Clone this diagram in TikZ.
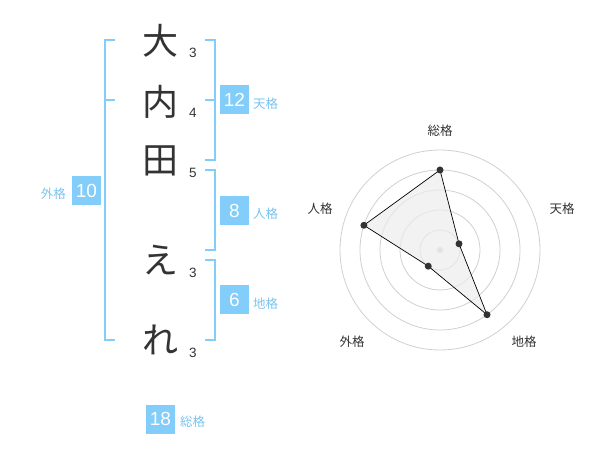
\documentclass[tikz,border=0pt]{standalone}
\usepackage{fontspec}
\setmainfont{Liberation Sans}
\newfontfamily\jp{Noto Sans CJK JP}
\usepackage{xcolor}
\usetikzlibrary{calc}

\definecolor{kakublue}{RGB}{130,205,249}
\definecolor{kakutext}{RGB}{120,196,240}
\definecolor{ink}{RGB}{51,51,51}
\definecolor{ring}{RGB}{208,208,208}

\begin{document}
\begin{tikzpicture}[x=1pt, y=-1pt,
    moji/.style={text=ink, font=\jp\fontsize{36}{36}\selectfont, inner sep=0pt},
    kakusu/.style={text=ink, font=\fontsize{13.5}{13.5}\selectfont, inner sep=0pt},
    kakubox/.style={fill=kakublue, text=white, minimum size=29pt, inner sep=0pt, font=\fontsize{19}{19}\selectfont},
    kakulabel/.style={text=kakutext, font=\jp\fontsize{12.5}{12.5}\selectfont, inner sep=0pt},
    bracket/.style={kakublue, line width=2pt},
    axislabel/.style={text=ink, font=\jp\fontsize{12.5}{12.5}\selectfont, inner sep=0pt}]

    \useasboundingbox (0,0) rectangle (600,470);

    % Draw the name
    \node[moji] (c1) at (160,41) {大};
    \node[moji] (c2) at (160,102) {内};
    \node[moji] (c3) at (160,161) {田};
    \node[moji] (c4) at (160,260) {え};
    \node[moji] (c5) at (160,340) {れ};

    % Draw the stroke counts
    \node[kakusu] (s1) at (193,53) {3};
    \node[kakusu] (s2) at (193,113) {4};
    \node[kakusu] (s3) at (193,173) {5};
    \node[kakusu] (s4) at (193,273) {3};
    \node[kakusu] (s5) at (193,353) {3};

    % Draw the brackets
    \draw[bracket] (115,40) -- (105,40) -- (105,340) -- (115,340);
    \draw[bracket] (105,100) -- (115,100);
    \draw[bracket] (205,40) -- (215,40) -- (215,160) -- (205,160);
    \draw[bracket] (205,100) -- (215,100);
    \draw[bracket] (205,170) -- (215,170) -- (215,250) -- (205,250);
    \draw[bracket] (205,260) -- (215,260) -- (215,340) -- (205,340);

    % Draw the boxes and labels
    \node[kakubox] (ten) at (234.5,100) {12};
    \node[kakulabel, anchor=west] (tenl) at (253,104) {天格};
    \node[kakubox] (jin) at (234.5,210.5) {8};
    \node[kakulabel, anchor=west] (jinl) at (253,214) {人格};
    \node[kakubox] (chi) at (234.5,300) {6};
    \node[kakulabel, anchor=west] (chil) at (253,304) {地格};
    \node[kakubox] (gai) at (86.5,190.5) {10};
    \node[kakulabel, anchor=east] (gail) at (66,194) {外格};
    \node[kakubox] (sou) at (160.5,419) {18};
    \node[kakulabel, anchor=west] (soul) at (180,422) {総格};

    % Draw the radar chart
    \coordinate (o) at (440,250);
    \foreach \r in {20,40,...,100}
        \draw[ring, line width=0.8pt] (o) circle (\r);
    \fill[ring] (o) circle (3);

    \coordinate (p1) at ($(o)+(-90:80)$);
    \coordinate (p2) at ($(o)+(-18:20)$);
    \coordinate (p3) at ($(o)+(54:80)$);
    \coordinate (p4) at ($(o)+(126:20)$);
    \coordinate (p5) at ($(o)+(198:80)$);
    \draw[black, line width=0.7pt, fill=gray!15, fill opacity=0.7] (p1) -- (p2) -- (p3) -- (p4) -- (p5) -- cycle;
    \foreach \p in {p1,p2,p3,p4,p5}
        \fill[ink] (\p) circle (3.5);

    \node[axislabel] (a1) at (440,131) {総格};
    \node[axislabel] (a2) at (562,209) {天格};
    \node[axislabel] (a3) at ($(o)+(84,92)$) {地格};
    \node[axislabel] (a4) at ($(o)+(-88,92)$) {外格};
    \node[axislabel] (a5) at (320,209) {人格};

\end{tikzpicture}
\end{document}
